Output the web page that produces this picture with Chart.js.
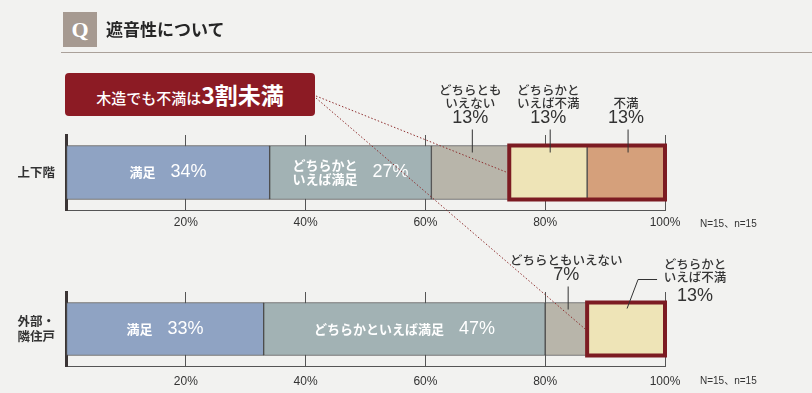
<!DOCTYPE html>
<html lang="ja">
<head>
<meta charset="utf-8">
<title>遮音性について</title>
<script src="https://cdn.jsdelivr.net/npm/chart.js@4.4.1/dist/chart.umd.min.js"></script>
<style>
  html, body { margin: 0; padding: 0; }
  body { width: 812px; height: 393px; background: #f2f2f0; position: relative; overflow: hidden;
         font-family: "Noto Sans CJK JP", sans-serif; }
  canvas { position: absolute; left: 0; }
  #upper { top: 0; }
  #outer { top: 240px; }
  #links { top: 0; pointer-events: none; z-index: 3; }
  .qbox { position: absolute; left: 63px; top: 12px; width: 34px; height: 35px; background: #a69a91;
          color: #fff; font: bold 22px "Liberation Serif", serif; text-align: center; line-height: 35px; z-index: 2; }
  .title { position: absolute; left: 106px; top: 16px; font-size: 17px; font-weight: bold; color: #262626; z-index: 2; }
  .rule { position: absolute; left: 61px; right: 0; top: 52px; height: 1px; background: #aaa19a; z-index: 2; }
  .callout { position: absolute; left: 65px; top: 73px; width: 250px; height: 43px; background: #8c1b24;
             border-radius: 4px; color: #fff; text-align: center; line-height: 43px; z-index: 2; white-space: nowrap; }
  .callout .s { font-size: 15px; font-weight: 500; }
  .callout .b { font-size: 23px; font-weight: bold; }
</style>
</head>
<body>
<div class="qbox">Q</div>
<div class="title">遮音性について</div>
<div class="rule"></div>
<div class="callout"><span class="s">木造でも不満は</span><span class="b">3割未満</span></div>
<canvas id="upper" width="812" height="240"></canvas>
<canvas id="outer" width="812" height="153"></canvas>
<canvas id="links" width="812" height="393"></canvas>
<script>
// ---- data ----
const categories = ['満足', 'どちらかといえば満足', 'どちらともいえない', 'どちらかといえば不満', '不満'];
const upperRow = ['上下階'];
const outerRow = [['外部・', '隣住戸']];
const upperValues = [34, 27, 13, 13, 13];
const outerValues = [33, 47, 7, 13, 0];
const tickValues = [20, 40, 60, 80, 100];
const sampleNote = 'N=15、n=15';

const colors = ['#8fa3c3', '#a2b2b4', '#b8b5aa', '#eee4b7', '#d5a07b'];
const fontJP = '"Noto Sans CJK JP", sans-serif';
const fontNum = '"Liberation Sans", "Noto Sans CJK JP", sans-serif';
const accent = '#7c1b22';

// label layout per segment
const upperLabels = [
  { mode: 'in', lines: ['満足'] },
  { mode: 'in', lines: ['どちらかと', 'いえば満足'] },
  { mode: 'up', lines: ['どちらとも', 'いえない'] },
  { mode: 'up', lines: ['どちらかと', 'いえば不満'] },
  { mode: 'up', lines: ['不満'] }
];
const outerLabels = [
  { mode: 'in', lines: ['満足'] },
  { mode: 'in', lines: ['どちらかといえば満足'] },
  { mode: 'up', lines: ['どちらともいえない'] },
  { mode: 'side', lines: ['どちらかと', 'いえば不満'], dx: 69 },
  null
];

function segBox(chart, i) {
  const el = chart.getDatasetMeta(i).data[0];
  const p = el.getProps(['x', 'y', 'base', 'height'], true);
  return { left: Math.min(p.x, p.base), right: Math.max(p.x, p.base), top: p.y - p.height / 2,
           bottom: p.y + p.height / 2, cy: p.y, cx: (p.x + p.base) / 2 };
}

const segLabels = {
  id: 'segLabels',
  afterDatasetsDraw(chart, args, opts) {
    const ctx = chart.ctx;
    const values = chart.data.datasets.map(d => d.data[0]);
    ctx.save();
    // highlight frame
    if (opts.highlight) {
      const a = segBox(chart, opts.highlight[0]);
      const b = segBox(chart, opts.highlight[1]);
      ctx.strokeStyle = accent;
      ctx.lineWidth = 4;
      ctx.strokeRect(a.left, a.top, b.right - a.left, a.bottom - a.top);
    }
    opts.labels.forEach((spec, i) => {
      if (!spec || !values[i]) return;
      const s = segBox(chart, i);
      const val = values[i] + '%';
      ctx.textBaseline = 'middle';
      if (spec.mode === 'in') {
        ctx.fillStyle = '#ffffff';
        ctx.font = 'bold 13px ' + fontJP;
        const nw = Math.max(...spec.lines.map(l => ctx.measureText(l).width));
        ctx.font = '18px ' + fontNum;
        const vw = ctx.measureText(val).width;
        const gap = 15;
        const x0 = s.cx - (nw + gap + vw) / 2;
        ctx.font = 'bold 13px ' + fontJP;
        ctx.textAlign = 'center';
        const n = spec.lines.length;
        spec.lines.forEach((l, k) => ctx.fillText(l, x0 + nw / 2, s.cy + (k - (n - 1) / 2) * 14));
        ctx.font = '18px ' + fontNum;
        ctx.textAlign = 'left';
        ctx.fillText(val, x0 + nw + gap, s.cy);
      } else {
        const side = spec.mode === 'side';
        const cx = s.cx + (spec.dx || 0);
        const vy = side ? s.top - 6 : s.top - 27;
        ctx.fillStyle = '#333';
        ctx.textAlign = 'center';
        ctx.font = '18px ' + fontNum;
        ctx.fillText(val, cx, vy);
        ctx.font = '500 12.5px ' + fontJP;
        const n = spec.lines.length;
        const first = side ? 19 : 15;
        spec.lines.forEach((l, k) => ctx.fillText(l, cx, vy - first - (n - 1 - k) * 13.5));
        ctx.strokeStyle = '#333';
        ctx.lineWidth = 1;
        ctx.beginPath();
        if (side) {
          ctx.moveTo(s.cx + 31, s.top - 23);
          ctx.lineTo(s.cx + 12, s.top - 23);
          ctx.lineTo(s.cx + 1, s.top + 6);
        } else {
          ctx.moveTo(s.cx + 2, s.top - 16);
          ctx.lineTo(s.cx + 2, s.top + 7);
        }
        ctx.stroke();
      }
    });
    // sample note
    ctx.fillStyle = '#333';
    ctx.font = '10px ' + fontNum;
    ctx.textAlign = 'left';
    ctx.textBaseline = 'middle';
    ctx.fillText(sampleNote, chart.chartArea.right + 35, chart.chartArea.bottom + opts.notePad);
    ctx.restore();
  }
};

function makeChart(id, rowLabel, values, labels, cfg) {
  return new Chart(document.getElementById(id), {
    type: 'bar',
    data: {
      labels: rowLabel,
      datasets: categories.map((c, i) => ({
        label: c,
        data: [values[i]],
        backgroundColor: colors[i],
        borderColor: '#4d4d4d',
        borderWidth: 1,
        borderSkipped: false,
        barThickness: cfg.bar
      }))
    },
    options: {
      indexAxis: 'y',
      responsive: false,
      animation: false,
      events: [],
      layout: { padding: { top: cfg.top, right: 147, left: 0, bottom: 0 } },
      scales: {
        x: {
          stacked: true, min: 0, max: 100,
          afterBuildTicks: s => { s.ticks = [0].concat(tickValues).map(v => ({ value: v })); },
          afterFit: s => { s.height = cfg.axisH; },
          ticks: {
            callback: v => v === 0 ? '' : v + '%',
            color: '#333', font: { family: fontNum, size: 12 }, padding: cfg.tickPad, maxRotation: 0
          },
          grid: { color: '#555', lineWidth: 1, drawTicks: false },
          border: { color: '#555', width: 1 }
        },
        y: {
          stacked: true,
          afterFit: s => { s.width = 66; },
          ticks: { color: '#333', font: { family: fontJP, size: 12.5, weight: 'bold' }, padding: 11 },
          grid: { display: false, drawTicks: false },
          border: { color: '#3b3535', width: 3 }
        }
      },
      plugins: {
        legend: { display: false },
        tooltip: { enabled: false },
        segLabels: { labels: labels, highlight: cfg.highlight, notePad: cfg.notePad }
      }
    },
    plugins: [segLabels]
  });
}

const upperChart = makeChart('upper', upperRow, upperValues, upperLabels,
  { top: 135, axisH: 30, bar: 54, tickPad: 5, highlight: [3, 4], notePad: 14 });
const outerChart = makeChart('outer', outerRow, outerValues, outerLabels,
  { top: 52, axisH: 27, bar: 53, tickPad: 8, highlight: [3, 3], notePad: 15 });

// dotted connectors from the callout to the highlighted frames
function drawLinks() {
  const ctx = document.getElementById('links').getContext('2d');
  const a = segBox(upperChart, 3);
  const b = segBox(outerChart, 3);
  ctx.clearRect(0, 0, 812, 393);
  ctx.strokeStyle = '#8e2f2f';
  ctx.lineWidth = 1;
  ctx.setLineDash([1.5, 2]);
  ctx.beginPath();
  ctx.moveTo(316, 96);
  ctx.lineTo(a.left - 2, a.cy);
  ctx.moveTo(316, 98);
  ctx.lineTo(b.left - 2, b.cy + 240);
  ctx.stroke();
}
drawLinks();
</script>
</body>
</html>
